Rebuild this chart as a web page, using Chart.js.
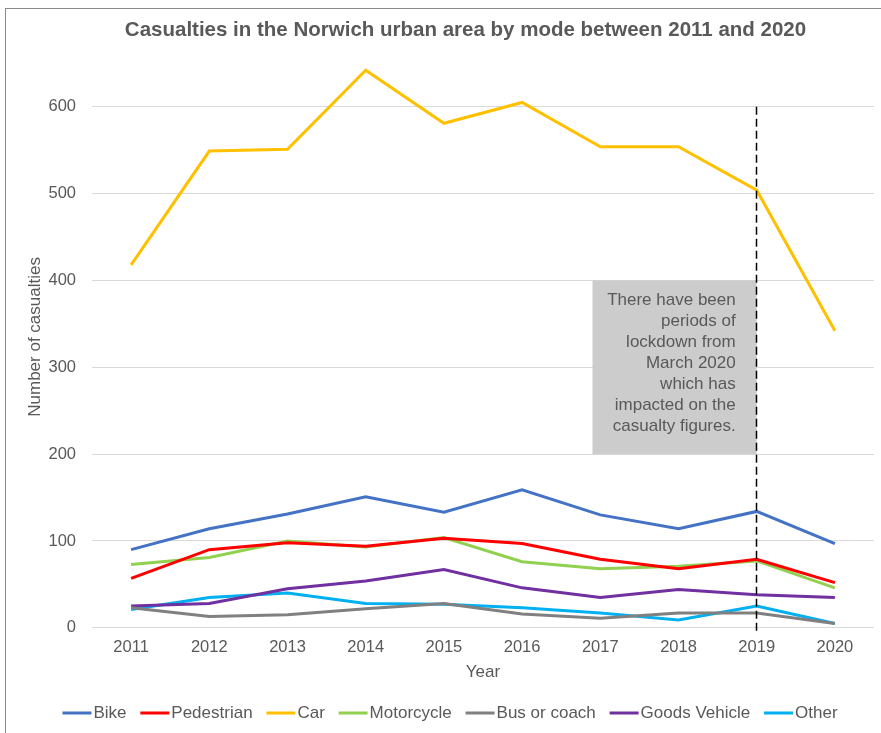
<!DOCTYPE html>
<html>
<head>
<meta charset="utf-8">
<script src="https://cdn.jsdelivr.net/npm/chart.js@4"></script>
<style>
    body { margin: 0; background: #fff; overflow: hidden; }
    #frame { position: absolute; left: 5px; top: 8px; width: 1000px; height: 1000px; border-left: 1px solid #8a8a8a; border-top: 1px solid #8a8a8a; }
    #wrap { position: absolute; left: 0; top: 0; width: 881px; height: 733px; }
</style>
</head>
<body>
<div id="frame"></div>
<div id="wrap"><canvas id="casualtiesChart" width="881" height="733"></canvas></div>
<script>
const years = ['2011', '2012', '2013', '2014', '2015', '2016', '2017', '2018', '2019', '2020'];
const bike = [90, 114, 131, 151, 133, 159, 130, 114, 134, 97];
const pedestrian = [57, 90, 98, 94, 103, 97, 79, 68, 79, 52];
const car = [418, 549, 551, 642, 581, 605, 554, 554, 504, 342];
const motorcycle = [73, 81, 100, 93, 104, 76, 68, 71, 77, 46];
const busOrCoach = [23, 13, 15, 22, 28, 16, 11, 17, 17, 5];
const goodsVehicle = [25, 28, 45, 54, 67, 46, 35, 44, 38, 35];
const other = [21, 35, 40, 28, 27, 23, 17, 9, 25, 5];
const yTicks = [0, 100, 200, 300, 400, 500, 600];

const chartTitle = 'Casualties in the Norwich urban area by mode between 2011 and 2020';
const noteLines = ['There have been', 'periods of', 'lockdown from', 'March 2020', 'which has', 'impacted on the', 'casualty figures.'];

const textColor = '#595959';
const fontFamily = 'Arial, "Liberation Sans", sans-serif';

function series(label, data, color) {
    return {
        label: label,
        data: data,
        borderColor: color,
        backgroundColor: color,
        borderWidth: 3,
        pointRadius: 0,
        pointHoverRadius: 0,
        tension: 0,
        fill: false
    };
}

// grey note box + dashed 2019 marker
const lockdownNote = {
    id: 'lockdownNote',
    beforeDatasetsDraw(chart) {
        const ctx = chart.ctx;
        const x = chart.scales.x, y = chart.scales.y;
        const left = x.getPixelForValue(5.9);
        const right = x.getPixelForValue(8);
        const top = y.getPixelForValue(400);
        const bottom = y.getPixelForValue(200);
        ctx.save();
        ctx.fillStyle = '#cccccc';
        ctx.fillRect(left, top, right - left, bottom - top);
        ctx.fillStyle = textColor;
        ctx.font = '17px ' + fontFamily;
        ctx.textAlign = 'right';
        ctx.textBaseline = 'middle';
        noteLines.forEach((line, i) => {
            ctx.fillText(line, right - 21, top + 20 + i * 21);
        });
        ctx.restore();
    },
    afterDatasetsDraw(chart) {
        const ctx = chart.ctx;
        const x = chart.scales.x, y = chart.scales.y;
        const px = Math.round(x.getPixelForValue(8)) - 0.5;
        ctx.save();
        ctx.strokeStyle = '#000000';
        ctx.lineWidth = 1.5;
        ctx.setLineDash([8, 4]);
        ctx.beginPath();
        ctx.moveTo(px, y.getPixelForValue(600));
        ctx.lineTo(px, y.getPixelForValue(0) + 6);
        ctx.stroke();
        ctx.restore();
    }
};

// title and legend drawn like the excel original (short gap between line and label)
const excelLabels = {
    id: 'excelLabels',
    afterDraw(chart) {
        const ctx = chart.ctx;
        ctx.save();
        ctx.fillStyle = textColor;
        ctx.textBaseline = 'middle';
        ctx.textAlign = 'center';
        ctx.font = 'bold 20.5px ' + fontFamily;
        ctx.fillText(chartTitle, 465.5, 30);

        ctx.font = '17px ' + fontFamily;
        ctx.textAlign = 'left';
        const sample = 29, gap = 2, spacing = 13.8;
        const sets = chart.data.datasets;
        const widths = sets.map(d => sample + gap + ctx.measureText(d.label).width);
        const total = widths.reduce((a, b) => a + b, 0) + spacing * (sets.length - 1);
        let lx = 450 - total / 2;
        const ly = 713;
        sets.forEach((d, i) => {
            ctx.fillStyle = d.borderColor;
            ctx.fillRect(lx, ly - 1.5, sample, 3);
            ctx.fillStyle = textColor;
            ctx.fillText(d.label, lx + sample + gap, ly);
            lx += widths[i] + spacing;
        });
        ctx.restore();
    }
};

const ctx = document.getElementById('casualtiesChart').getContext('2d');
const casualtiesChart = new Chart(ctx, {
    type: 'line',
    data: {
        labels: years,
        datasets: [
            series('Bike', bike, '#4472C4'),
            series('Pedestrian', pedestrian, '#FF0000'),
            series('Car', car, '#FFC000'),
            series('Motorcycle', motorcycle, '#92D050'),
            series('Bus or coach', busOrCoach, '#808080'),
            series('Goods Vehicle', goodsVehicle, '#7030A0'),
            series('Other', other, '#00B0F0')
        ]
    },
    options: {
        responsive: false,
        animation: false,
        events: [],
        layout: {
            padding: { left: 25, right: 7, top: 46, bottom: 50 }
        },
        plugins: {
            title: { display: false },
            legend: { display: false },
            tooltip: { enabled: false }
        },
        scales: {
            x: {
                offset: true,
                grid: { display: false, drawTicks: false },
                border: { display: false },
                ticks: {
                    color: textColor,
                    font: { family: fontFamily, size: 16.5 },
                    padding: 10,
                    maxRotation: 0
                },
                title: {
                    display: true,
                    text: 'Year',
                    color: textColor,
                    font: { family: fontFamily, size: 17 },
                    padding: { top: -5, bottom: 0 }
                }
            },
            y: {
                min: 0,
                max: 670,
                afterBuildTicks(scale) {
                    scale.ticks = yTicks.map(v => ({ value: v }));
                },
                afterFit(scale) {
                    scale.width = 67;
                },
                grid: { color: '#d9d9d9', lineWidth: 1, drawTicks: false },
                border: { display: false },
                ticks: {
                    color: textColor,
                    font: { family: fontFamily, size: 16.5 },
                    padding: 16
                },
                title: {
                    display: true,
                    text: 'Number of casualties',
                    color: textColor,
                    font: { family: fontFamily, size: 17 },
                    padding: { top: 0, bottom: 3 }
                }
            }
        }
    },
    plugins: [lockdownNote, excelLabels]
});
</script>
</body>
</html>
